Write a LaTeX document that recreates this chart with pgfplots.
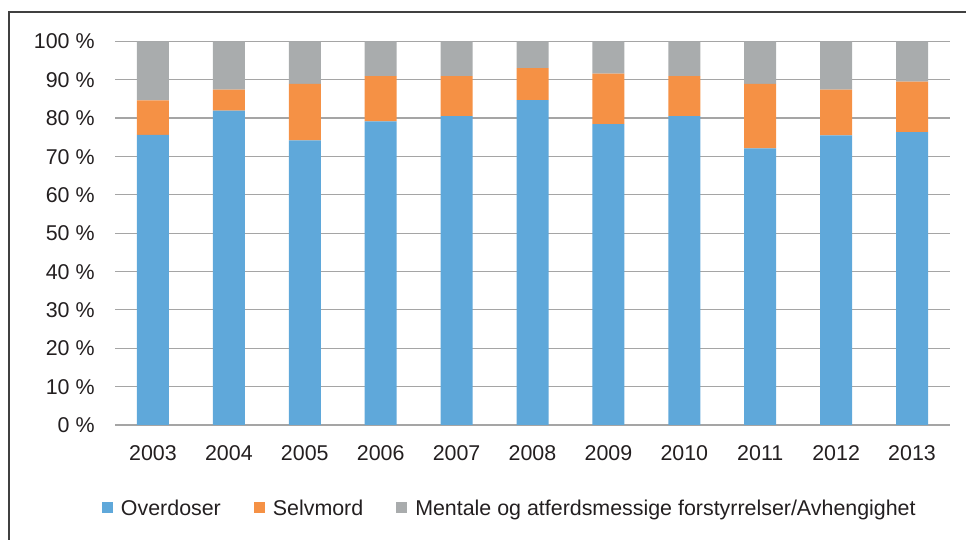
\documentclass[border=0pt]{standalone}
\usepackage{pgfplots}
\pgfplotsset{compat=1.18}
\usepackage{fontspec}
\setmainfont{Liberation Sans}
\definecolor{cblue}{RGB}{95,168,218}
\definecolor{corange}{RGB}{245,145,69}
\definecolor{cgray}{RGB}{169,172,173}
\definecolor{cgrid}{RGB}{165,165,165}
\definecolor{ctext}{RGB}{35,31,32}
\begin{document}
\begin{tikzpicture}
\path[use as bounding box] (0,0) rectangle (483pt,270pt);
\draw[line width=0.6pt, color=black!75] (4.5pt,-1pt) -- (4.5pt,264pt) -- (484pt,264pt);
\begin{axis}[
  at={(57.5pt,57.5pt)}, anchor=south west,
  scale only axis, width=417.5pt, height=191.85pt,
  ybar stacked, bar width=16pt,
  xmin=-0.5, xmax=10.5, ymin=0, ymax=100,
  xtick={0,...,10},
  xticklabels={2003,2004,2005,2006,2007,2008,2009,2010,2011,2012,2013},
  ytick={0,10,...,100},
  yticklabels={0 \%,10 \%,20 \%,30 \%,40 \%,50 \%,60 \%,70 \%,80 \%,90 \%,100 \%},
  major tick length=0pt,
  axis line style={draw=none},
  ymajorgrids, grid style={line width=0.6pt, color=cgrid},
  ticklabel style={font=\fontsize{10.7}{12.8}\selectfont, color=ctext, inner sep=0pt, text height=7.65pt, text depth=0pt},
  xticklabel style={anchor=north, yshift=-10pt},
  yticklabel style={anchor=east, xshift=-10pt},
  legend columns=-1,
  legend style={at={(-0.0156,-0.2163)}, anchor=west, draw=none, fill=none,
    font=\fontsize{10.7}{12.8}\selectfont, text=ctext,
    inner sep=0pt, outer sep=0pt,
    nodes={inner sep=0pt, text height=7.65pt, text depth=0pt},
    /tikz/every odd column/.append style={column sep=4pt},
    /tikz/every even column/.append style={column sep=16.5pt}},
  legend image code/.code={\fill[#1] (0pt,-2.75pt) rectangle (5.5pt,2.75pt);},
]
\addplot[fill=cblue, draw=none] coordinates {(0,75.6) (1,81.9) (2,74.2) (3,79.1) (4,80.5) (5,84.7) (6,78.4) (7,80.5) (8,72.1) (9,75.5) (10,76.3)};
\addplot[fill=corange, draw=none] coordinates {(0,9.0) (1,5.5) (2,14.7) (3,11.8) (4,10.4) (5,8.3) (6,13.2) (7,10.4) (8,16.8) (9,11.9) (10,13.2)};
\addplot[fill=cgray, draw=none] coordinates {(0,15.4) (1,12.6) (2,11.1) (3,9.1) (4,9.1) (5,7.0) (6,8.4) (7,9.1) (8,11.1) (9,12.6) (10,10.5)};
\legend{Overdoser, Selvmord, Mentale og atferdsmessige forstyrrelser/Avhengighet}
\end{axis}
\end{tikzpicture}
\end{document}
